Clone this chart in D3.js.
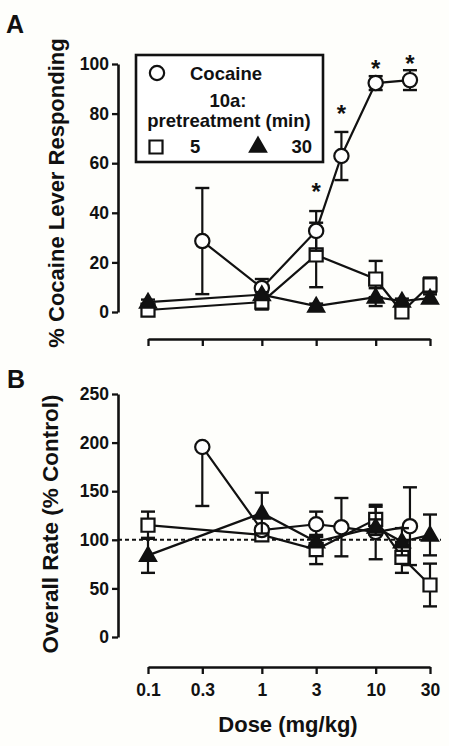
<!DOCTYPE html>
<html><head><meta charset="utf-8">
<script src="https://cdn.jsdelivr.net/npm/d3@7"></script>
<style>
body{margin:0;background:#fefefb}
text{font-family:"Liberation Sans",Arial,Helvetica,sans-serif;font-weight:bold;fill:#111}
</style>
</head><body><svg id="c" width="449" height="746"></svg>
<script>
// ---------- data ----------
const tickDoses = [0.1, 0.3, 1, 3, 10, 30];
const tickLabels = ["0.1", "0.3", "1", "3", "10", "30"];
const cocaineDoses = [0.3, 1, 3, 5, 10, 20];
const drugDoses = [0.1, 1, 3, 10, 17, 30];
const yTicksA = [0, 20, 40, 60, 80, 100];
const yTicksB = [0, 50, 100, 150, 200, 250];

// Panel A: % cocaine lever responding
const cocaineA = [28.6, 9.7, 32.7, 62.9, 92.3, 93.5];
const cocaineAErr = [21.4, 3.6, 8, 9.7, 2.8, 4];
const pre5A = [0.8, 4, 23, 13.3, 0, 10.9];
const pre5AErr = [1.5, 3, 13, 7.3, 1.5, 3];
const pre30A = [4, 7, 2.4, 6, 4.4, 5.6];
const pre30AErr = [1, 1, 1, 3.6, 1, 1.5];
const sigDosesA = [3, 5, 10, 20];
const sigValuesA = [50.4, 82, 100, 102];

// Panel B: overall rate (% control)
const cocaineB = [195.5, 110, 116, 113, 108, 114];
const cocaineBErrUp = [0, 4, 13, 30, 28, 40];
const cocaineBErrDown = [60.7, 4, 13, 30, 28, 40];
const pre5B = [115, 105, 90, 121, 82, 53.5];
const pre5BErr = [14, 4, 15, 13, 16, 22];
const pre30B = [84, 127.5, 98, 113, 98, 105];
const pre30BErr = [18, 21, 5, 8, 14, 21];
const controlLevel = 100;

// ---------- drawing ----------
const svg = d3.select("#c");
const ink = "#111";
const x = d3.scaleLog().domain([0.1, 30]).range([148, 430]);
const yA = d3.scaleLinear().domain([0, 100]).range([312, 64]);
const yB = d3.scaleLinear().domain([0, 250]).range([637, 394]);
const axisX = 118;

function styleAxis(g) {
  g.select(".domain").attr("stroke", ink).attr("stroke-width", 2.6);
  g.selectAll(".tick line").attr("stroke", ink).attr("stroke-width", 2.3);
  g.selectAll(".tick text").attr("fill", ink).style("font-size", "17.5px");
}

function yAxis(y, ticks) {
  const g = svg.append("g").attr("transform", `translate(${axisX},0)`)
    .call(d3.axisLeft(y).tickValues(ticks).tickSize(6).tickSizeOuter(0).tickPadding(3).tickFormat(d3.format("d")));
  g.attr("font-family", null).attr("font-size", null);
  styleAxis(g);
}

function xAxis(yPos, labels) {
  const ax = d3.axisBottom(x).tickValues(tickDoses).tickSize(7).tickSizeOuter(0).tickPadding(10)
    .tickFormat(labels ? (d, i) => tickLabels[i] : "");
  const g = svg.append("g").attr("transform", `translate(0,${yPos})`).call(ax);
  g.attr("font-family", null).attr("font-size", null);
  styleAxis(g);
}

const symCircle = d3.symbol().type(d3.symbolCircle).size(160)();
const symSquare = d3.symbol().type(d3.symbolSquare).size(170)();
const symTri = d3.symbol().type(d3.symbolTriangle).size(110)();

function drawSeries(y, s) {
  const g = svg.append("g");
  const pts = s.doses.map((d, i) => ({d, v: s.vals[i], up: s.up[i], dn: s.dn[i]}));
  pts.forEach(p => {
    const cx = x(p.d);
    const top = y(p.v + p.up), bot = y(p.v - p.dn);
    g.append("line").attr("x1", cx).attr("x2", cx).attr("y1", top).attr("y2", bot)
      .attr("stroke", ink).attr("stroke-width", 2.2);
    if (p.up > 0) g.append("line").attr("x1", cx - 7).attr("x2", cx + 7).attr("y1", top).attr("y2", top)
      .attr("stroke", ink).attr("stroke-width", 2.4);
    if (p.dn > 0) g.append("line").attr("x1", cx - 7).attr("x2", cx + 7).attr("y1", bot).attr("y2", bot)
      .attr("stroke", ink).attr("stroke-width", 2.4);
  });
  g.append("path").datum(pts)
    .attr("d", d3.line().x(p => x(p.d)).y(p => y(p.v)))
    .attr("fill", "none").attr("stroke", ink).attr("stroke-width", 2.2);
  g.selectAll(".m").data(pts).join("path")
    .attr("transform", p => `translate(${x(p.d)},${y(p.v) + (s.shape === symTri ? 1 : 0)})`)
    .attr("d", s.shape).attr("fill", s.fill).attr("stroke", ink).attr("stroke-width", 2.2);
}

// ---- Panel A ----
svg.append("text").attr("x", 6).attr("y", 33).style("font-size", "25px").text("A");
yAxis(yA, yTicksA);
xAxis(339, false);
svg.append("text").attr("transform", `translate(64,193) rotate(-90)`).attr("text-anchor", "middle")
  .style("font-size", "22px").text("% Cocaine Lever Responding");

drawSeries(yA, {doses: drugDoses, vals: pre5A, up: pre5AErr, dn: pre5AErr, shape: symSquare, fill: "#fff"});
drawSeries(yA, {doses: cocaineDoses, vals: cocaineA, up: cocaineAErr, dn: cocaineAErr, shape: symCircle, fill: "#fff"});
drawSeries(yA, {doses: drugDoses, vals: pre30A, up: pre30AErr, dn: pre30AErr, shape: symTri, fill: ink});

sigDosesA.forEach((d, i) => {
  svg.append("text").attr("x", x(d)).attr("y", yA(sigValuesA[i]) + 13).attr("text-anchor", "middle")
    .style("font-size", "24px").text("*");
});

// legend
const lg = svg.append("g");
lg.append("rect").attr("x", 136).attr("y", 55).attr("width", 187).attr("height", 107)
  .attr("fill", "#fff").attr("stroke", ink).attr("stroke-width", 2.6);
lg.append("path").attr("d", symCircle).attr("transform", "translate(157,73)").attr("fill", "#fff").attr("stroke", ink).attr("stroke-width", 2.2);
lg.append("text").attr("x", 190).attr("y", 80).style("font-size", "18.5px").text("Cocaine");
lg.append("text").attr("x", 228).attr("y", 107).attr("text-anchor", "middle").style("font-size", "18.5px").text("10a:");
lg.append("text").attr("x", 229).attr("y", 127).attr("text-anchor", "middle").style("font-size", "18.5px").text("pretreatment (min)");
lg.append("path").attr("d", symSquare).attr("transform", "translate(156,147)").attr("fill", "#fff").attr("stroke", ink).attr("stroke-width", 2.2);
lg.append("text").attr("x", 190).attr("y", 153).style("font-size", "18.5px").text("5");
lg.append("path").attr("d", symTri).attr("transform", "translate(258,147)").attr("fill", ink).attr("stroke", ink).attr("stroke-width", 2.2);
lg.append("text").attr("x", 312).attr("y", 153).attr("text-anchor", "end").style("font-size", "18.5px").text("30");

// ---- Panel B ----
svg.append("text").attr("x", 7).attr("y", 388).style("font-size", "25px").text("B");
yAxis(yB, yTicksB);
xAxis(667, true);
svg.append("text").attr("transform", `translate(58,524) rotate(-90)`).attr("text-anchor", "middle")
  .style("font-size", "22.5px").text("Overall Rate (% Control)");
svg.append("text").attr("x", 288).attr("y", 732).attr("text-anchor", "middle")
  .style("font-size", "22px").text("Dose (mg/kg)");

svg.append("line").attr("x1", axisX).attr("x2", 441).attr("y1", yB(controlLevel)).attr("y2", yB(controlLevel))
  .attr("stroke", ink).attr("stroke-width", 2).attr("stroke-dasharray", "4,3");

drawSeries(yB, {doses: drugDoses, vals: pre5B, up: pre5BErr, dn: pre5BErr, shape: symSquare, fill: "#fff"});
drawSeries(yB, {doses: cocaineDoses, vals: cocaineB, up: cocaineBErrUp, dn: cocaineBErrDown, shape: symCircle, fill: "#fff"});
drawSeries(yB, {doses: drugDoses, vals: pre30B, up: pre30BErr, dn: pre30BErr, shape: symTri, fill: ink});
</script>
</body></html>
